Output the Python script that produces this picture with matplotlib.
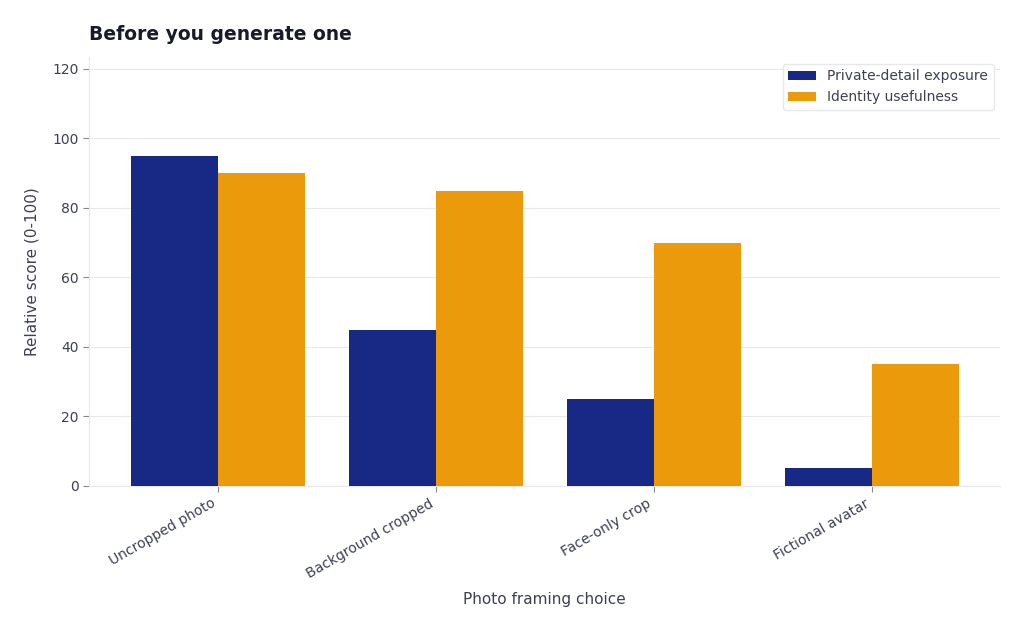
import numpy as np
import matplotlib.pyplot as plt

plt.rcParams["font.family"] = ["DejaVu Sans"]

categories = ["Uncropped photo", "Background cropped", "Face-only crop", "Fictional avatar"]
exposure = [95, 45, 25, 5]
usefulness = [90, 85, 70, 35]

NAVY = "#172885"
ORANGE = "#EA9A0B"
TEXT = "#3d4150"
GRID = "#e8e8ec"

fig = plt.figure(figsize=(10.24, 6.31), dpi=100)
ax = fig.add_axes([0.087, 0.23, 0.89, 0.68])

x = np.arange(len(categories))
w = 0.4
ax.bar(x - w / 2, exposure, w, color=NAVY, label="Private-detail exposure", zorder=3)
ax.bar(x + w / 2, usefulness, w, color=ORANGE, label="Identity usefulness", zorder=3)

ax.set_ylim(0, max(exposure + usefulness) * 1.3)
ax.set_yticks(range(0, 121, 20))
ax.set_xticks(x)
ax.set_xticklabels(categories, rotation=30, ha="right")
ax.yaxis.grid(True, color=GRID, linewidth=0.8, zorder=0)
ax.set_axisbelow(True)

for s in ["top", "right"]:
    ax.spines[s].set_visible(False)
for s in ["left", "bottom"]:
    ax.spines[s].set_color(GRID)
ax.tick_params(colors=TEXT, labelsize=10, length=4)
ax.tick_params(axis="both", color="#888888")

ax.set_xlabel("Photo framing choice", color=TEXT, fontsize=11, labelpad=8)
ax.set_ylabel("Relative score (0-100)", color=TEXT, fontsize=11, labelpad=9)
ax.set_title("Before you generate one", loc="left", fontsize=13.5, fontweight="bold",
             color="#161a2b", pad=12)

leg = ax.legend(loc="upper right", fontsize=10, frameon=True, framealpha=1,
                edgecolor=GRID, borderpad=0.4, handlelength=2)
for t in leg.get_texts():
    t.set_color(TEXT)

fig.savefig("out.png", dpi=100)
